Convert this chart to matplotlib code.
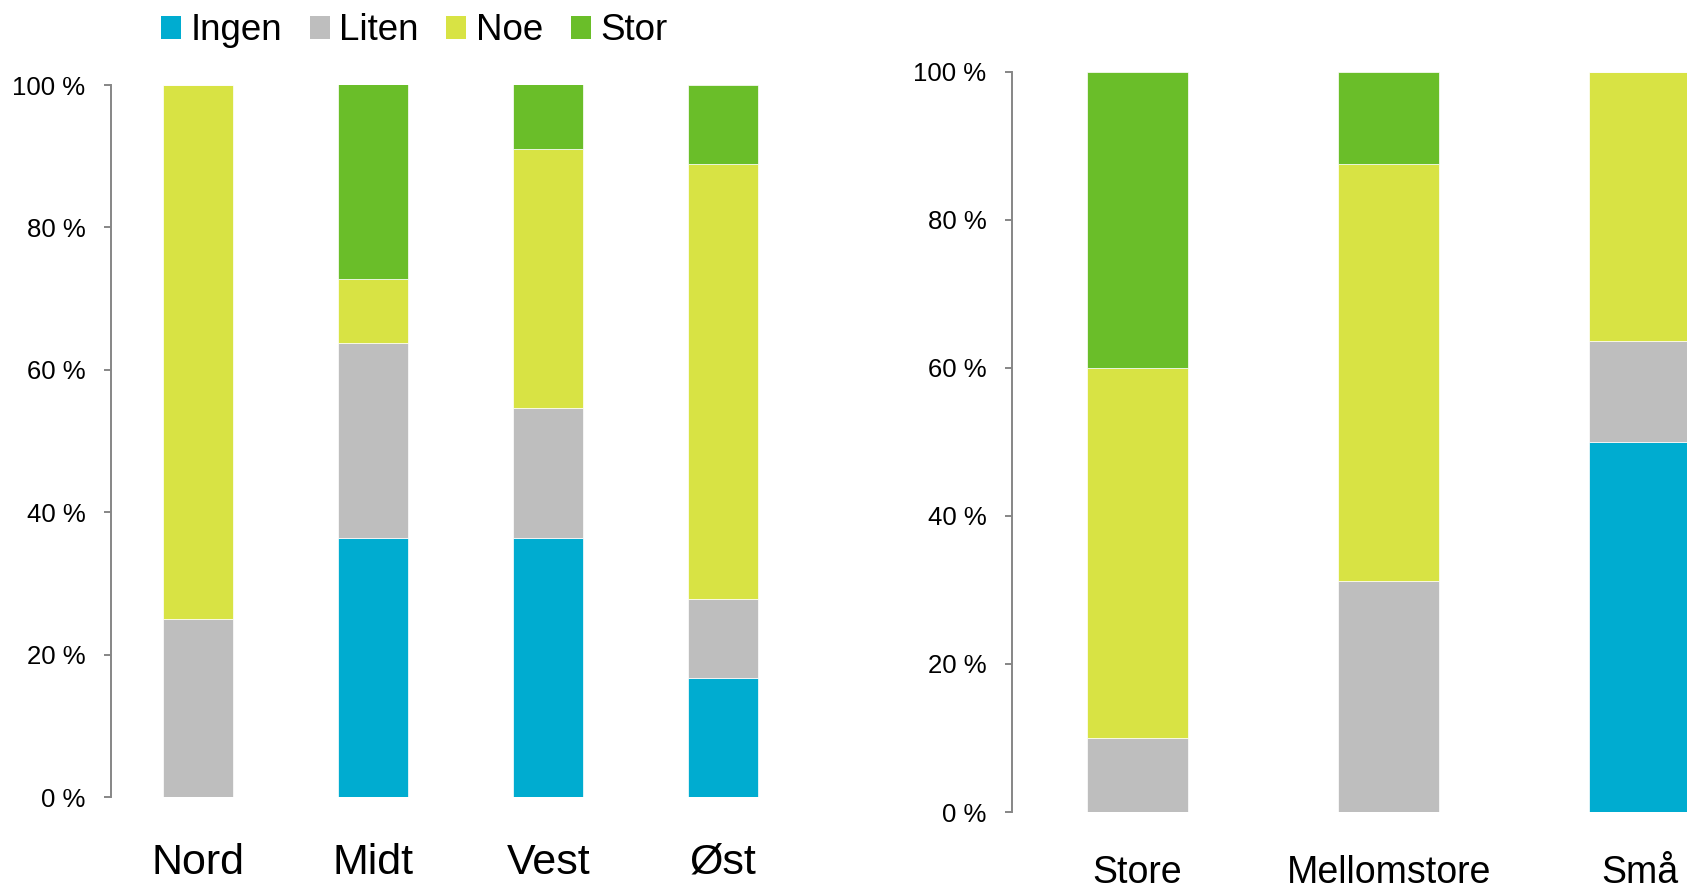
import matplotlib.pyplot as plt
from matplotlib.patches import Patch

plt.rcParams['font.family'] = ['Liberation Sans', 'DejaVu Sans']

# Data (shares in %)
series = ["Ingen", "Liten", "Noe", "Stor"]
colors = ["#00ACD0", "#BEBEBE", "#D8E344", "#6ABE29"]

regions = ["Nord", "Midt", "Vest", "Øst"]
region_ingen = [0.0, 36.4, 36.4, 16.7]
region_liten = [25.0, 27.3, 18.2, 11.1]
region_noe = [75.0, 9.1, 36.4, 61.1]
region_stor = [0.0, 27.3, 9.1, 11.1]

sizes = ["Store", "Mellomstore", "Små"]
size_ingen = [0.0, 0.0, 50.0]
size_liten = [10.0, 31.25, 13.6]
size_noe = [50.0, 56.25, 36.4]
size_stor = [40.0, 12.5, 0.0]

yticks = [0, 20, 40, 60, 80, 100]
ytick_labels = ["0 %", "20 %", "40 %", "60 %", "80 %", "100 %"]


def stacked(ax, cats, parts, catsize, catpad):
    x = range(len(cats))
    bottom = [0.0] * len(cats)
    for vals, col in zip(parts, colors):
        ax.bar(x, vals, width=0.4, bottom=bottom, color=col,
               edgecolor="white", linewidth=0.5)
        bottom = [b + v for b, v in zip(bottom, vals)]
    ax.set_xlim(-0.5, len(cats) - 0.5)
    ax.set_ylim(0, 100)
    ax.set_xticks(list(x))
    ax.set_xticklabels(cats, fontsize=catsize)
    ax.set_yticks(yticks)
    ax.set_yticklabels(ytick_labels, fontsize=18.5)
    ax.tick_params(axis="x", length=0, pad=catpad)
    ax.tick_params(axis="y", length=5, width=1.4, color="#868686", pad=13.5)
    for s in ["top", "right", "bottom"]:
        ax.spines[s].set_visible(False)
    ax.spines["left"].set_color("#868686")
    ax.spines["left"].set_linewidth(1.4)


fig = plt.figure(figsize=(16.87, 8.93), dpi=100)
ax1 = fig.add_axes([0.0658, 0.1075, 0.4149, 0.7973])
ax2 = fig.add_axes([0.5999, 0.0907, 0.4464, 0.8287])

stacked(ax1, regions, [region_ingen, region_liten, region_noe, region_stor], 31, 33)
stacked(ax2, sizes, [size_ingen, size_liten, size_noe, size_stor], 27, 31)

handles = [Patch(facecolor=c) for c in colors]
fig.legend(handles, series, ncol=4, loc="center left",
           bbox_to_anchor=(161 / 1687, 1 - 31 / 893), frameon=False,
           borderpad=0, borderaxespad=0, handlelength=0.55, handleheight=0.55,
           handletextpad=0.25, columnspacing=0.75, fontsize=26.5)

fig.savefig("out.png", dpi=100)
